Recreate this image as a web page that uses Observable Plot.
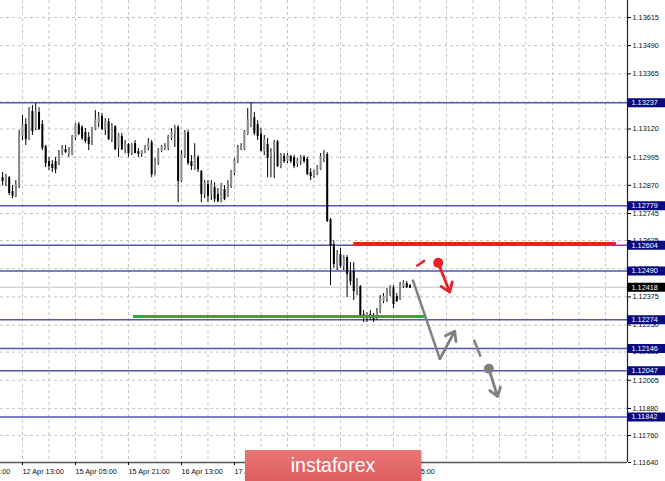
<!DOCTYPE html>
<html><head><meta charset="utf-8">
<script src="https://cdn.jsdelivr.net/npm/d3@7"></script>
<script src="https://cdn.jsdelivr.net/npm/@observablehq/plot@0.6"></script>
<style>
html,body{margin:0;padding:0;background:#fff;}
#wrap{position:relative;width:665px;height:481px;overflow:hidden;}
#wrap svg{position:absolute;left:0;top:0;}
#banner{position:absolute;left:245px;top:450px;width:176px;height:31px;background:linear-gradient(#ea7676,#dc5e5e);color:#fff;font-family:"Liberation Sans",Arial,sans-serif;font-size:19.5px;line-height:30px;text-align:center;z-index:2;box-shadow:1px 1px 2px rgba(0,0,0,0.25);}
</style></head><body><div id="wrap"><div id="banner">instaforex</div></div>
<script>
// H1 candles: [open, high, low, close]
const candles = [
[1.12900,1.12927,1.12869,1.12891],[1.12891,1.12918,1.12865,1.12904],[1.12900,1.12909,1.12825,1.12838],[1.12838,1.12869,1.12811,1.12825],
[1.12825,1.12891,1.12816,1.12869],[1.12869,1.13113,1.12856,1.13091],[1.13091,1.13180,1.13069,1.13135],[1.13135,1.13166,1.13047,1.13078],
[1.13078,1.13215,1.13069,1.13202],[1.13193,1.13224,1.13091,1.13113],[1.13126,1.13233,1.13113,1.13193],[1.13189,1.13215,1.13113,1.13122],
[1.13135,1.13157,1.13024,1.13038],[1.13038,1.13047,1.12949,1.12971],[1.12971,1.12994,1.12936,1.12958],[1.12958,1.12980,1.12927,1.12949],
[1.12971,1.12994,1.12922,1.12944],[1.12967,1.13024,1.12958,1.13011],[1.13011,1.13047,1.13002,1.13033],[1.13024,1.13047,1.13011,1.13020],
[1.13015,1.13038,1.12994,1.13033],[1.13011,1.13091,1.13002,1.13082],[1.13082,1.13144,1.13069,1.13135],[1.13135,1.13149,1.13091,1.13100],
[1.13122,1.13135,1.13069,1.13082],[1.13100,1.13122,1.13055,1.13069],[1.13078,1.13104,1.13024,1.13055],[1.13060,1.13126,1.13047,1.13122],
[1.13122,1.13202,1.13113,1.13157],[1.13149,1.13193,1.13126,1.13171],[1.13171,1.13189,1.13113,1.13122],[1.13122,1.13166,1.13091,1.13149],
[1.13149,1.13166,1.13069,1.13078],[1.13078,1.13144,1.13060,1.13126],[1.13126,1.13135,1.13024,1.13033],[1.13038,1.13100,1.12994,1.13091],
[1.13082,1.13100,1.13024,1.13033],[1.13033,1.13069,1.13011,1.13055],[1.13047,1.13055,1.12994,1.13015],[1.13015,1.13055,1.13002,1.13047],
[1.13051,1.13069,1.13011,1.13015],[1.13015,1.13033,1.12994,1.13011],[1.13011,1.13024,1.12994,1.13020],[1.13020,1.13047,1.13011,1.13038],
[1.13038,1.13078,1.13024,1.13055],[1.13055,1.13069,1.12904,1.12922],[1.12927,1.12989,1.12913,1.12971],[1.12971,1.13033,1.12958,1.13024],
[1.13024,1.13047,1.13015,1.13038],[1.13038,1.13055,1.13024,1.13047],[1.13038,1.13091,1.13024,1.13082],[1.13082,1.13122,1.13069,1.13100],
[1.13100,1.13135,1.13038,1.13122],[1.13122,1.13135,1.12793,1.12891],[1.12891,1.13024,1.12882,1.13002],[1.13002,1.13113,1.12989,1.13100],
[1.13100,1.13113,1.12958,1.12971],[1.12971,1.13002,1.12936,1.12958],[1.12944,1.13055,1.12936,1.12989],[1.12989,1.13002,1.12927,1.12944],
[1.12927,1.12936,1.12793,1.12833],[1.12833,1.12891,1.12811,1.12878],[1.12869,1.12891,1.12793,1.12825],[1.12833,1.12891,1.12802,1.12869],
[1.12856,1.12882,1.12793,1.12811],[1.12825,1.12856,1.12793,1.12802],[1.12802,1.12878,1.12793,1.12869],[1.12847,1.12869,1.12802,1.12811],
[1.12825,1.12891,1.12816,1.12878],[1.12869,1.12936,1.12856,1.12927],[1.12927,1.12989,1.12913,1.12980],[1.12980,1.13047,1.12967,1.13033],
[1.13033,1.13055,1.13024,1.13038],[1.13033,1.13113,1.13024,1.13104],[1.13100,1.13211,1.13091,1.13157],[1.13135,1.13237,1.13126,1.13180],
[1.13166,1.13193,1.13091,1.13104],[1.13135,1.13157,1.13069,1.13091],[1.13091,1.13122,1.13020,1.13024],[1.13024,1.13091,1.13002,1.13069],
[1.13047,1.13078,1.12904,1.12994],[1.13002,1.13033,1.12904,1.13015],[1.13024,1.13069,1.12900,1.13055],[1.13060,1.13069,1.12949,1.12958],
[1.12958,1.13011,1.12944,1.13002],[1.12994,1.13011,1.12967,1.12980],[1.12980,1.13011,1.12967,1.12998],[1.12994,1.13002,1.12967,1.12980],
[1.12989,1.13002,1.12944,1.12958],[1.12967,1.12989,1.12949,1.12980],[1.12980,1.13002,1.12958,1.12989],[1.12989,1.13002,1.12967,1.12980],
[1.12980,1.12994,1.12913,1.12922],[1.12922,1.12944,1.12891,1.12913],[1.12913,1.12936,1.12900,1.12927],[1.12922,1.12958,1.12913,1.12949],
[1.12944,1.13011,1.12936,1.12994],[1.12994,1.13024,1.12971,1.13002],[1.13002,1.13015,1.12705,1.12714],[1.12714,1.12723,1.12425,1.12603],
[1.12603,1.12625,1.12500,1.12523],[1.12514,1.12581,1.12492,1.12558],[1.12558,1.12590,1.12501,1.12514],[1.12514,1.12558,1.12492,1.12545],
[1.12545,1.12558,1.12372,1.12478],[1.12478,1.12527,1.12425,1.12447],[1.12483,1.12527,1.12359,1.12403],[1.12403,1.12456,1.12381,1.12447],
[1.12416,1.12425,1.12283,1.12292],[1.12292,1.12314,1.12261,1.12283],[1.12283,1.12305,1.12261,1.12296],[1.12292,1.12314,1.12270,1.12283],
[1.12287,1.12301,1.12261,1.12274],[1.12279,1.12323,1.12270,1.12305],[1.12314,1.12381,1.12301,1.12363],[1.12359,1.12390,1.12345,1.12372],
[1.12363,1.12412,1.12350,1.12403],[1.12390,1.12425,1.12376,1.12416],[1.12412,1.12425,1.12323,1.12345],[1.12372,1.12390,1.12350,1.12359],
[1.12368,1.12439,1.12359,1.12425],[1.12425,1.12447,1.12412,1.12434],[1.12430,1.12443,1.12412,1.12421],[1.12421,1.12430,1.12412,1.12418]
];
// Time axis labels (bar index -> label)
const xTickIdx = [-10, 6, 22, 38, 54, 70, 86, 102, 118];
const xTickLabels = ["11 Apr 21:00","12 Apr 13:00","15 Apr 05:00","15 Apr 21:00","16 Apr 13:00","17 Apr 05:00","17 Apr 21:00","18 Apr 13:00","19 Apr 05:00"];
const xGridIdx = [6,14,22,30,38,46,54,62,70,78,86,94,102,110,118,126,134,142,150,158,166,174,182];
// Price axis ticks
const yTicks = [1.13615,1.13490,1.13365,1.13240,1.13120,1.12995,1.12870,1.12745,1.12625,1.12500,1.12375,1.12250,1.12130,1.12005,1.11880,1.11760,1.11640];
// Horizontal support/resistance levels
const levels = [1.13237,1.12779,1.12604,1.12490,1.12274,1.12146,1.12047,1.11842];
const bid = 1.12418;
// Annotations
const redLine = [{y:1.12612, x1:106.0, x2:185.3}];
const greenLine = [{y:1.12288, x1:39.5, x2:127.7}];
const redDash = [{x1:124.9, y1:1.12511, x2:127.5, y2:1.12537}];
const redDot = [{x:131.5, y:1.12526}];
const redArrow = [{x1:131.5, y1:1.12526, x2:135.0, y2:1.12396}];
const grayLeg = [{x1:123.8, y1:1.12452, x2:132.0, y2:1.12100}];
const grayUp = [{x1:132.0, y1:1.12100, x2:136.5, y2:1.12223}];
const grayDash = [{x1:142.3, y1:1.12185, x2:144.3, y2:1.12110}];
const grayDot = [{x:146.8, y:1.12056}];
const grayDown = [{x1:146.8, y1:1.12056, x2:149.4, y2:1.11933}];

const xDomain = [-0.634, 188.65];
const yDomain = [1.11640, 1.136904];

const bars = candles.map(([o,h,l,c], i) => ({i, o, h, l, c, up: c >= o}));
const boxes = levels.map(v => ({v, fill:"#0a0a80"})).concat([{v: bid, fill:"#000"}]);
const fmt = d3.format(".5f");
const labelMap = new Map(xTickIdx.map((d,k) => [d, xTickLabels[k]]));
const font = "'Liberation Sans', Arial, sans-serif";

const chart = Plot.plot({
  width: 665, height: 481,
  marginLeft: 0, marginRight: 38, marginTop: 0, marginBottom: 19,
  x: {domain: xDomain, axis: null},
  y: {domain: yDomain, axis: null},
  style: {fontFamily: font, fontSize: "7.3px", background: "#fff", color: "#000", overflow: "visible"},
  marks: [
    Plot.ruleY(yTicks, {stroke: "#c4c4c4", strokeDasharray: "3,3"}),
    Plot.ruleX(xGridIdx, {stroke: "#c4c4c4", strokeDasharray: "3,3"}),
    Plot.ruleY([bid], {stroke: "#c0c0c0"}),
    Plot.ruleY(levels, {stroke: "#5454b6", strokeWidth: 1.5}),
    Plot.ruleX(bars, {x: "i", y1: "l", y2: "h", stroke: "#000", strokeWidth: 1}),
    Plot.ruleX(bars, {x: "i", y1: "o", y2: "c", stroke: d => d.up ? "#8a8a8a" : "#000", strokeWidth: 2, strokeLinecap: "square"}),
    Plot.ruleY(redLine, {y: "y", x1: "x1", x2: "x2", stroke: "#e8202a", strokeWidth: 3}),
    Plot.ruleY(greenLine, {y: "y", x1: "x1", x2: "x2", stroke: "#2daa3a", strokeWidth: 3}),
    Plot.link(redDash, {x1: "x1", y1: "y1", x2: "x2", y2: "y2", stroke: "#e8202a", strokeWidth: 2.5}),
    Plot.arrow(redArrow, {x1: "x1", y1: "y1", x2: "x2", y2: "y2", stroke: "#e8202a", strokeWidth: 2.8, headLength: 11, headAngle: 70}),
    Plot.dot(redDot, {x: "x", y: "y", r: 5, fill: "#e8202a"}),
    Plot.link(grayLeg, {x1: "x1", y1: "y1", x2: "x2", y2: "y2", stroke: "#808080", strokeWidth: 2.5}),
    Plot.arrow(grayUp, {x1: "x1", y1: "y1", x2: "x2", y2: "y2", stroke: "#808080", strokeWidth: 2.8, headLength: 11, headAngle: 70}),
    Plot.link(grayDash, {x1: "x1", y1: "y1", x2: "x2", y2: "y2", stroke: "#808080", strokeWidth: 2.5}),
    Plot.arrow(grayDown, {x1: "x1", y1: "y1", x2: "x2", y2: "y2", stroke: "#808080", strokeWidth: 2.8, headLength: 11, headAngle: 70}),
    Plot.dot(grayDot, {x: "x", y: "y", r: 5, fill: "#808080"}),
    Plot.ruleX([xDomain[1]], {stroke: "#222", strokeWidth: 1.2}),
    Plot.ruleY([yDomain[0]], {stroke: "#555", strokeWidth: 1.6}),
    Plot.axisY(yTicks, {anchor: "right", tickSize: 3, tickPadding: 2, tickFormat: fmt, fontSize: 7.3, fill: "#111"}),
    Plot.axisX(xTickIdx, {anchor: "bottom", tickSize: 3, tickPadding: 3, tickFormat: d => labelMap.get(d), textAnchor: "start", fontSize: 7.3, fill: "#111"}),
    Plot.ruleY(boxes, {y: "v", x1: xDomain[1], x2: xDomain[1] + 11.5, stroke: "fill", strokeWidth: 9}),
    Plot.text(boxes, {x: xDomain[1], y: "v", text: d => fmt(d.v), dx: 4, textAnchor: "start", fill: "#fff", fontSize: 7.3})
  ]
});
document.getElementById("wrap").prepend(chart);
</script>
</body></html>
